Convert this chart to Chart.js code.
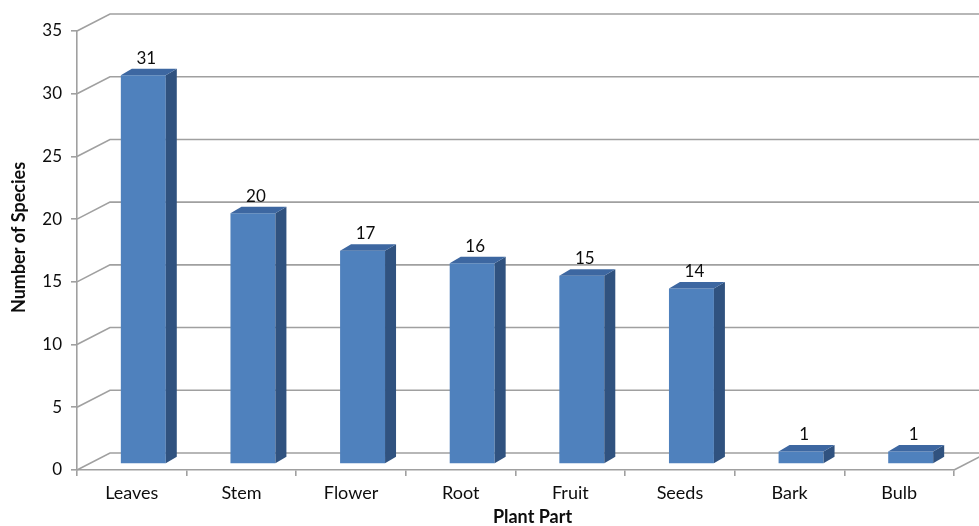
<!DOCTYPE html>
<html>
<head>
<meta charset="utf-8">
<script src="https://cdn.jsdelivr.net/npm/chart.js@4/dist/chart.umd.min.js"></script>
<style>
  html, body { margin: 0; padding: 0; background: #ffffff; }
  #wrap { width: 979px; height: 526px; }
</style>
</head>
<body>
<div id="wrap"><canvas id="chart" width="979" height="526"></canvas></div>
<script>
// Plant parts used and number of species for each
const categories = ['Leaves', 'Stem', 'Flower', 'Root', 'Fruit', 'Seeds', 'Bark', 'Bulb'];
const speciesCounts = [31, 20, 17, 16, 15, 14, 1, 1];

// Value axis range
const yMin = 0;
const yMax = 35;
const yStep = 5;

// Axis titles
const xTitle = 'Plant Part';
const yTitle = 'Number of Species';

// 3D look: wall depth and bar placement inside it
const WALL_DX = 33, WALL_DY = 17;            // front plane -> back wall
const BAR_FRONT_DX = 11.5, BAR_FRONT_DY = 6; // front plane -> bar front face
const BAR_DX = 11, BAR_DY = 6.5;             // bar thickness in depth

const GRID_COLOR = '#a0a0a0';
const FRONT_COLOR = '#4f81bd';
const SIDE_COLOR = '#30527f';
const TOP_COLOR = '#3d67a1';
const TEXT_COLOR = '#0d0d0d';
const FONT = 'Lato, "Liberation Sans", sans-serif';

// Back wall gridlines with their slanted connectors and the floor outline,
// extruded bars and their value labels
const wallPlugin = {
  id: 'wall3d',
  beforeDatasetsDraw(chart) {
    const { ctx, chartArea, scales } = chart;
    const y = scales.y;
    const left = chartArea.left, right = chartArea.right;
    ctx.save();
    ctx.strokeStyle = GRID_COLOR;
    ctx.lineWidth = 1.6;
    y.ticks.forEach(t => {
      const py = y.getPixelForValue(t.value);
      ctx.beginPath();
      ctx.moveTo(left, py);
      ctx.lineTo(left + WALL_DX, py - WALL_DY);
      ctx.lineTo(right + WALL_DX, py - WALL_DY);
      ctx.stroke();
    });
    const p0 = y.getPixelForValue(yMin);
    ctx.beginPath();
    ctx.moveTo(right, p0);
    ctx.lineTo(right + WALL_DX, p0 - WALL_DY);
    ctx.stroke();
    ctx.restore();
  },
  beforeDatasetDraw(chart) {
    chart.ctx.save();
    chart.ctx.translate(BAR_FRONT_DX, -BAR_FRONT_DY);
  },
  afterDatasetDraw(chart, args) {
    const { ctx } = chart;
    const meta = args.meta;
    const values = chart.data.datasets[args.index].data;
    meta.data.forEach((el, i) => {
      const { x, y, base, width } = el.getProps(['x', 'y', 'base', 'width'], true);
      const l = x - width / 2, r = x + width / 2;
      // right side face
      ctx.fillStyle = SIDE_COLOR;
      ctx.beginPath();
      ctx.moveTo(r, y);
      ctx.lineTo(r + BAR_DX, y - BAR_DY);
      ctx.lineTo(r + BAR_DX, base - BAR_DY);
      ctx.lineTo(r, base);
      ctx.closePath();
      ctx.fill();
      // top face
      ctx.fillStyle = TOP_COLOR;
      ctx.beginPath();
      ctx.moveTo(l, y);
      ctx.lineTo(l + BAR_DX, y - BAR_DY);
      ctx.lineTo(r + BAR_DX, y - BAR_DY);
      ctx.lineTo(r, y);
      ctx.closePath();
      ctx.fill();
      // value label
      ctx.fillStyle = TEXT_COLOR;
      ctx.font = '17px ' + FONT;
      ctx.textAlign = 'center';
      ctx.textBaseline = 'middle';
      ctx.fillText(String(values[i]), x + 3, y - 17);
    });
    ctx.restore();
  },
  afterDraw(chart) {
    const { ctx, chartArea } = chart;
    ctx.save();
    ctx.fillStyle = TEXT_COLOR;
    ctx.font = 'bold 18px ' + FONT;
    ctx.textAlign = 'center';
    ctx.textBaseline = 'middle';
    // category axis title
    ctx.fillText(xTitle, (chartArea.left + chartArea.right) / 2 + 17, 517);
    // value axis title
    ctx.translate(19, (chartArea.top + chartArea.bottom) / 2 - 13);
    ctx.rotate(-Math.PI / 2);
    ctx.fillText(yTitle, 0, 0);
    ctx.restore();
  }
};

new Chart(document.getElementById('chart'), {
  type: 'bar',
  data: {
    labels: categories,
    datasets: [{
      data: speciesCounts,
      backgroundColor: FRONT_COLOR,
      borderWidth: 0,
      barPercentage: 0.41,
      categoryPercentage: 1.0,
      clip: false
    }]
  },
  options: {
    responsive: false,
    animation: false,
    events: [],
    layout: { padding: { top: 31, right: 25, left: 0, bottom: 0 } },
    plugins: {
      legend: { display: false },
      tooltip: { enabled: false }
    },
    scales: {
      x: {
        type: 'category',
        offset: true,
        afterFit(scale) { scale.height = 56; },
        grid: {
          offset: true,
          drawOnChartArea: false,
          drawTicks: true,
          tickLength: 6,
          color: GRID_COLOR,
          lineWidth: 1.6
        },
        border: { display: true, color: GRID_COLOR, width: 1.6 },
        ticks: {
          color: TEXT_COLOR,
          font: { family: FONT, size: 18 },
          padding: 6,
          maxRotation: 0,
          autoSkip: false
        }
      },
      y: {
        min: yMin,
        max: yMax,
        afterFit(scale) { scale.width = 77; },
        grid: {
          drawOnChartArea: false,
          drawTicks: true,
          tickLength: 6,
          color: GRID_COLOR,
          lineWidth: 1.6
        },
        border: { display: true, color: GRID_COLOR, width: 1.6 },
        ticks: {
          stepSize: yStep,
          color: TEXT_COLOR,
          font: { family: FONT, size: 17 },
          padding: 9
        }
      }
    }
  },
  plugins: [wallPlugin]
});
</script>
</body>
</html>
